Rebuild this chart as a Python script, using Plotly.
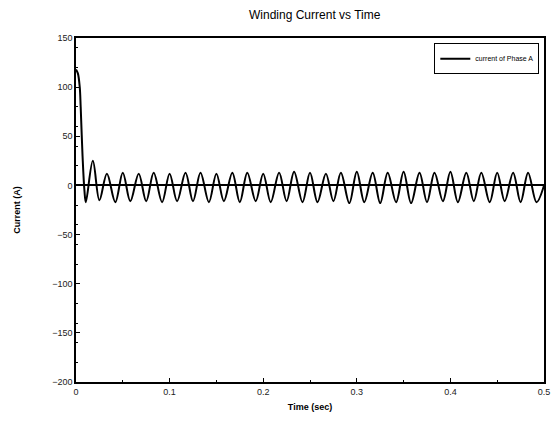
import plotly.graph_objects as go

# time (s) and winding current (A)
time_s = [0.000, 0.002, 0.004, 0.005, 0.007, 0.009, 0.0105, 0.018,
          0.025, 0.033, 0.042, 0.050, 0.058, 0.067, 0.075, 0.083, 0.092, 0.100,
          0.108, 0.117, 0.125, 0.133, 0.142, 0.150, 0.158, 0.167, 0.175, 0.183,
          0.192, 0.200, 0.208, 0.217, 0.225, 0.233, 0.242, 0.250, 0.258, 0.267,
          0.275, 0.283, 0.292, 0.300, 0.308, 0.317, 0.325, 0.333, 0.342, 0.350,
          0.358, 0.367, 0.375, 0.383, 0.392, 0.400, 0.408, 0.417, 0.425, 0.433,
          0.442, 0.450, 0.458, 0.467, 0.475, 0.483, 0.492, 0.500]
current_a = [118, 114, 100, 80, 30, -5, -17, 25,
             -15, 12, -17, 13, -16, 12, -16, 13, -17, 12,
             -16, 13, -16, 13, -17, 12, -16, 13, -17, 13,
             -16, 12, -17, 13, -16, 14, -17, 13, -17, 12,
             -16, 13, -18, 14, -17, 13, -18, 13, -17, 14,
             -18, 13, -17, 13, -16, 14, -17, 13, -16, 13,
             -17, 13, -16, 13, -17, 13, -17, 0]

x_ticks = [0, 0.1, 0.2, 0.3, 0.4, 0.5]
y_ticks = [-200, -150, -100, -50, 0, 50, 100, 150]

fig = go.Figure()
fig.add_trace(go.Scatter(
    x=time_s, y=current_a, mode="lines",
    line=dict(color="black", width=2, shape="spline", smoothing=1.0),
    name="current of Phase A",
))

axis_common = dict(
    showline=True, linecolor="black", linewidth=1.5, mirror=True,
    ticks="inside", ticklen=4, tickcolor="black",
    showgrid=False,
    tickfont=dict(family="Liberation Sans", size=9, color="#222"),
    minor=dict(ticks="inside", ticklen=2, tickcolor="black", nticks=5),
)

fig.update_layout(
    width=557, height=429,
    margin=dict(l=76, r=7, t=38, b=47),
    paper_bgcolor="white", plot_bgcolor="white",
    title=dict(text="Winding Current vs Time", x=0.565, xanchor="center",
               y=0.975, yanchor="top",
               font=dict(family="Liberation Sans Narrow, Liberation Sans", size=12, color="black")),
    xaxis=dict(range=[0, 0.5], tickvals=x_ticks, zeroline=False,
               title=dict(text="<b>Time (sec)</b>", standoff=8,
                          font=dict(family="Liberation Sans", size=9, color="black")),
               **axis_common),
    yaxis=dict(range=[-200, 150], tickvals=y_ticks,
               zeroline=True, zerolinecolor="black", zerolinewidth=1.5,
               title=dict(text="<b>Current (A)</b>", standoff=30,
                          font=dict(family="Liberation Sans", size=9, color="black")),
               **axis_common),
    showlegend=True,
    legend=dict(x=0.99, y=0.985, xanchor="right", yanchor="top",
                bgcolor="white", bordercolor="black", borderwidth=1,
                tracegroupgap=0, itemwidth=30,
                font=dict(family="Liberation Sans", size=7, color="black")),
)

fig.write_html("out.html")
